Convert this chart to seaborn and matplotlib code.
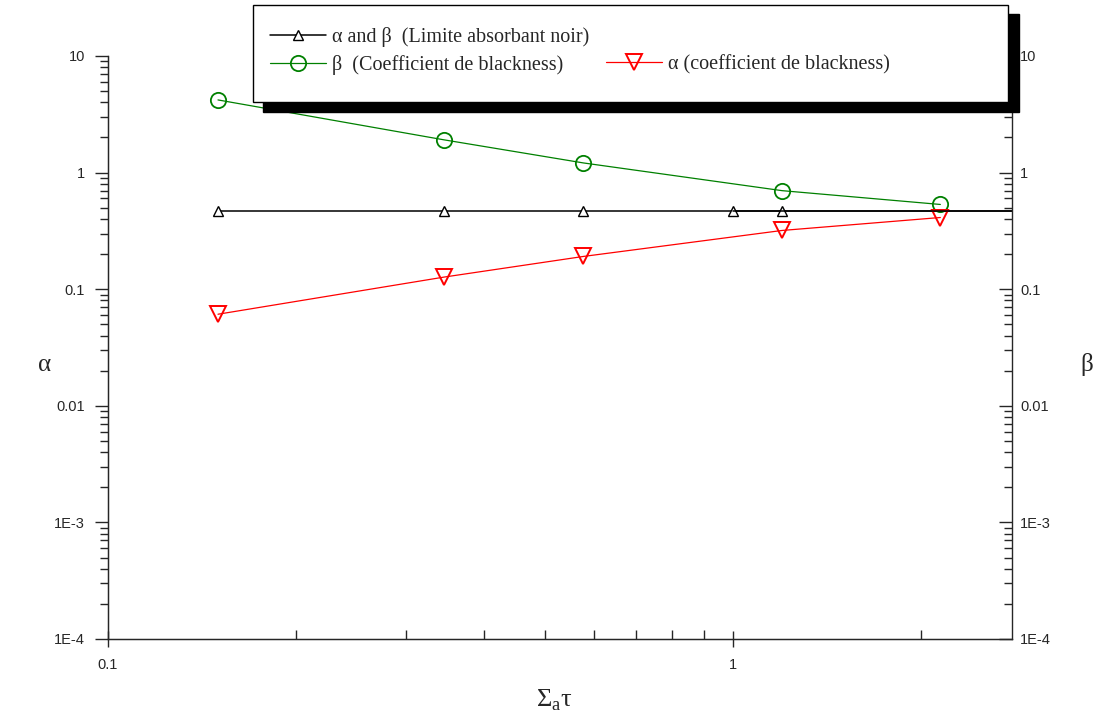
import numpy as np
import pandas as pd
import matplotlib
matplotlib.use("Agg")
from matplotlib import pyplot as plt
from matplotlib.lines import Line2D
from matplotlib.patches import Rectangle
from matplotlib.ticker import FixedLocator, LogLocator, NullFormatter
import seaborn as sns

# Sigma_a * tau
x_pts = [0.15, 0.345, 0.577, 1.2, 2.15]
beta_coef = [4.2, 1.91, 1.21, 0.70, 0.533]
alpha_coef = [0.061, 0.127, 0.191, 0.319, 0.412]

# black-absorber limit, line runs on past the right edge
x_limit = [0.15, 0.345, 0.577, 1.0, 1.2, 3.0]
limit_val = [0.473, 0.473, 0.473, 0.473, 0.473, 0.473]

y_ticks = [1e-4, 1e-3, 1e-2, 0.1, 1, 10]
y_ticklabels = ["1E-4", "1E-3", "0.01", "0.1", "1", "10"]
x_ticks = [0.1, 1]
x_ticklabels = ["0.1", "1"]

labels = ["α and β  (Limite absorbant noir)",
          "β  (Coefficient de blackness)",
          "α (coefficient de blackness)"]

sns.set_style("ticks")
plt.rcParams["font.family"] = ["Liberation Sans", "DejaVu Sans"]
serif = ["Liberation Serif", "DejaVu Serif"]

W, H = 1096, 720
fig = plt.figure(figsize=(W / 100, H / 100), dpi=100)
ax = fig.add_axes([108 / W, 1 - 639 / H, 904 / W, 583 / H])

df_lim = pd.DataFrame({"x": x_limit, "y": limit_val})
df = pd.DataFrame({"x": x_pts, "beta": beta_coef, "alpha": alpha_coef})

sns.lineplot(data=df_lim, x="x", y="y", ax=ax, color="black", lw=1.1,
             marker="^", markersize=7, markerfacecolor="white",
             markeredgecolor="black", markeredgewidth=1.0,
             markevery=[0, 1, 2, 3, 4], sort=False, estimator=None)
sns.lineplot(data=df, x="x", y="beta", ax=ax, color="#008000", lw=0.9,
             marker="o", markersize=11, markerfacecolor="none",
             markeredgecolor="#008000", markeredgewidth=1.3,
             sort=False, estimator=None)
sns.lineplot(data=df, x="x", y="alpha", ax=ax, color="red", lw=0.9,
             marker="v", markersize=11, markerfacecolor="none",
             markeredgecolor="red", markeredgewidth=1.4,
             sort=False, estimator=None)
# doubled stretch of the limit line
sns.lineplot(data=df_lim.iloc[3:], x="x", y="y", ax=ax, color="black",
             lw=1.1, sort=False, estimator=None)
h_black, h_green, h_red = ax.lines[0], ax.lines[1], ax.lines[2]

ax.set_xscale("log")
ax.set_yscale("log")
ax.set_xlim(0.1, 2.8)
ax.set_ylim(1e-4, 10)

ax.xaxis.set_major_locator(FixedLocator(x_ticks))
ax.set_xticklabels(x_ticklabels)
ax.xaxis.set_minor_locator(LogLocator(base=10, subs=(2, 3, 4, 5, 6, 7, 8, 9)))
ax.xaxis.set_minor_formatter(NullFormatter())
ax.yaxis.set_major_locator(FixedLocator(y_ticks))
ax.set_yticklabels(y_ticklabels)
ax.yaxis.set_minor_locator(LogLocator(base=10, subs=(2, 3, 4, 5, 6, 7, 8, 9)))
ax.yaxis.set_minor_formatter(NullFormatter())

ax.tick_params(axis="y", which="major", direction="out", length=9.4, width=1,
               labelsize=10.5, pad=7)
ax.tick_params(axis="y", which="minor", direction="out", length=5.8, width=1)
ax.tick_params(axis="x", which="major", direction="inout", length=11.5, width=1,
               labelsize=10.5, pad=8)
ax.tick_params(axis="x", which="minor", direction="in", length=6.5, width=1)
ax.spines["top"].set_visible(False)
ax.spines["right"].set_visible(False)
for s in ("left", "bottom"):
    ax.spines[s].set_linewidth(1)

ax2 = ax.twinx()
ax2.set_yscale("log")
ax2.set_ylim(1e-4, 10)
ax2.yaxis.set_major_locator(FixedLocator(y_ticks))
ax2.set_yticklabels(y_ticklabels)
ax2.yaxis.set_minor_locator(LogLocator(base=10, subs=(2, 3, 4, 5, 6, 7, 8, 9)))
ax2.yaxis.set_minor_formatter(NullFormatter())
ax2.tick_params(axis="y", which="major", direction="in", length=9.4, width=1,
                labelsize=10.5, pad=6)
ax2.tick_params(axis="y", which="minor", direction="in", length=5.8, width=1)
ax2.spines["top"].set_visible(False)
ax2.spines["right"].set_linewidth(1)

ax.set_xlabel(r"Σ$_\mathregular{a}$τ", fontsize=19, family=serif, va="center")
ax.xaxis.set_label_coords(0.494, -0.105)
ax.set_ylabel("α", fontsize=18, family=serif, rotation=0, va="center", ha="center")
ax.yaxis.set_label_coords(-0.07, 0.47)
ax2.set_ylabel("β", fontsize=18, family=serif, rotation=0, va="center", ha="center")
ax2.yaxis.set_label_coords(1.083, 0.47)

# legend box with hard black shadow
def px(x0, y0, x1, y1):
    return (x0 / W, 1 - y1 / H), (x1 - x0) / W, (y1 - y0) / H

xy, w, h = px(263, 14, 1019, 112)
fig.patches.append(Rectangle(xy, w, h, transform=fig.transFigure,
                             facecolor="black", edgecolor="black", zorder=5))
xy, w, h = px(253, 5, 1008, 102)
fig.patches.append(Rectangle(xy, w, h, transform=fig.transFigure,
                             facecolor="white", edgecolor="black", lw=1, zorder=5))

blank = Line2D([], [], linestyle="none")
leg = fig.legend(handles=[h_black, h_green, blank, h_red],
                 labels=[labels[0], labels[1], "", labels[2]],
                 ncol=2, loc="upper left",
                 bbox_to_anchor=(270 / W, 1 - 27 / H),
                 bbox_transform=fig.transFigure,
                 frameon=False, borderpad=0, borderaxespad=0,
                 handlelength=2.8, handletextpad=0.3, columnspacing=0.8,
                 labelspacing=0.4, numpoints=1,
                 prop={"family": serif, "size": 14.5})
leg.set_zorder(6)

fig.savefig("out.png", dpi=100)
